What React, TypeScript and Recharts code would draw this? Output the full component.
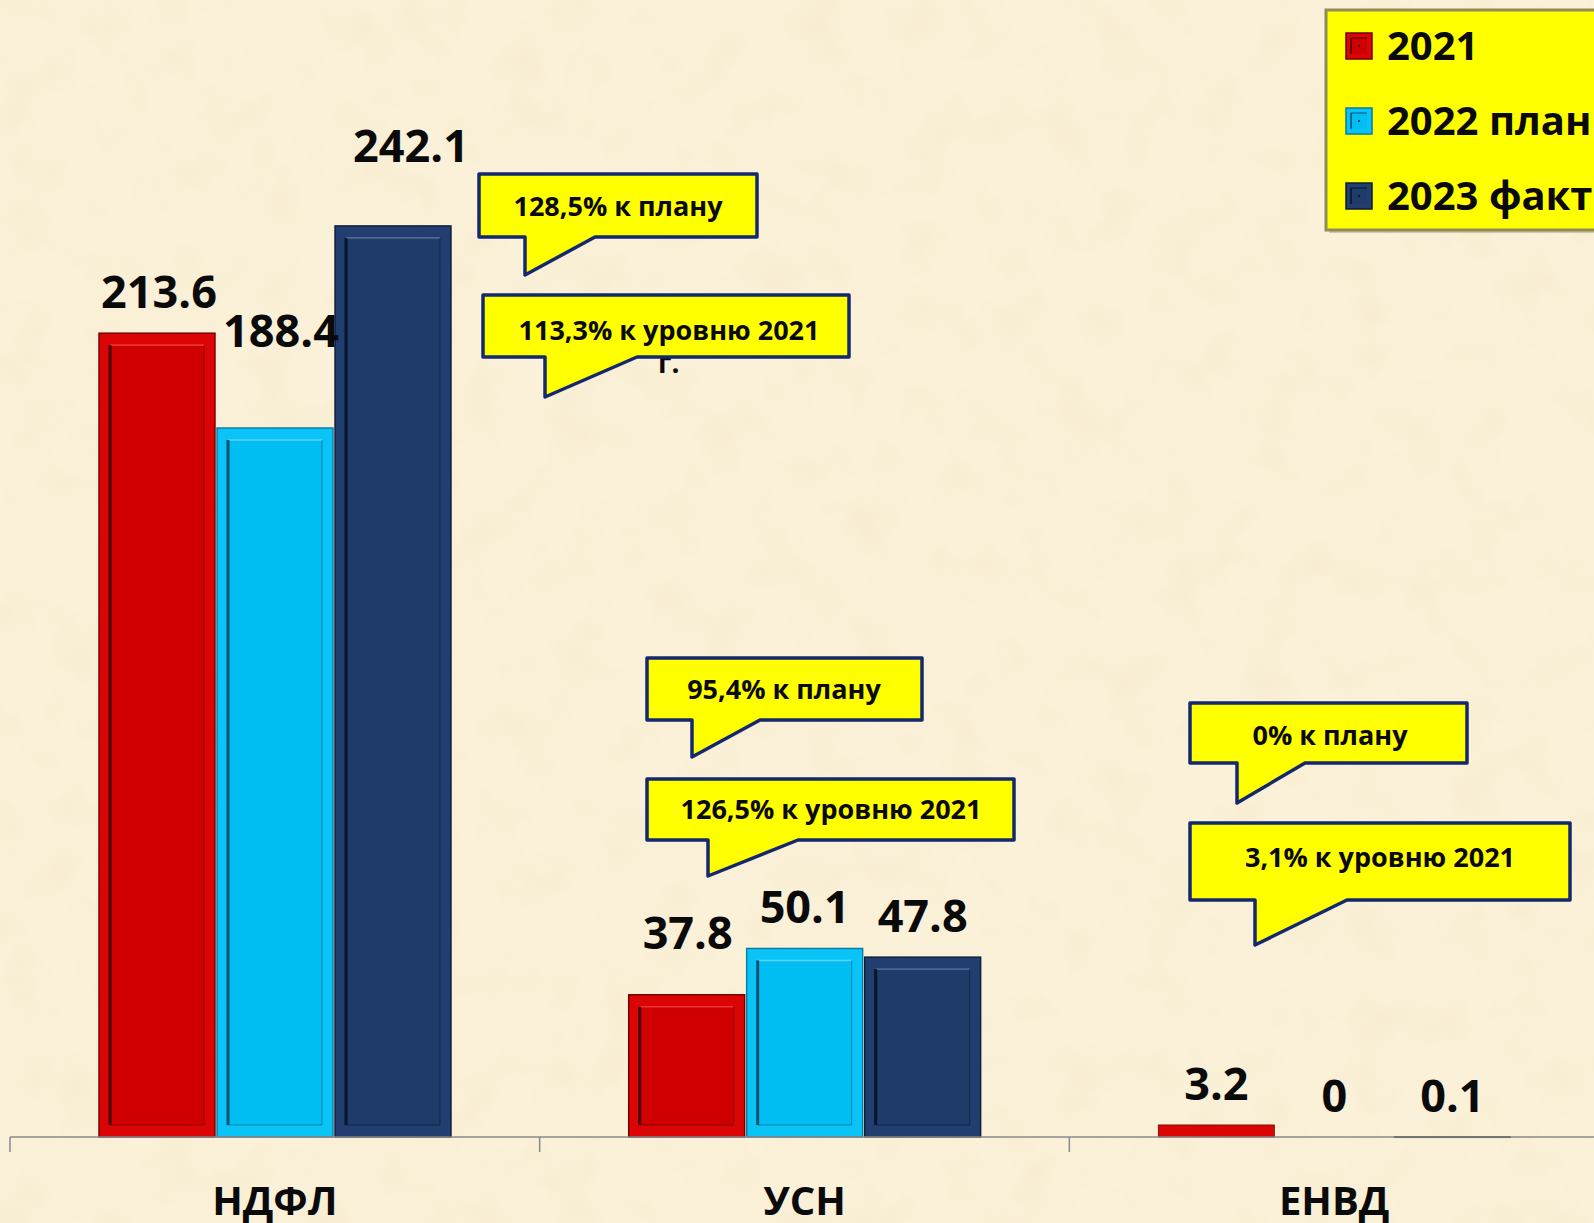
import React from 'react';
import { BarChart, Bar, XAxis, YAxis, LabelList, Legend } from 'recharts';

// ---------- data ----------
const categories = ['НДФЛ', 'УСН', 'ЕНВД'];
const values2021 = [213.6, 37.8, 3.2];
const values2022plan = [188.4, 50.1, 0];
const values2023fact = [242.1, 47.8, 0.1];
const seriesNames = ['2021', '2022 план', '2023 факт'];
const yDomain: [number, number] = [0, 300];
const calloutTexts = [
  '128,5% к плану',
  '113,3% к уровню 2021',
  '95,4% к плану',
  '126,5% к уровню 2021',
  '0% к плану',
  '3,1% к уровню 2021',
];

const data = categories.map((name, i) => ({
  name,
  s0: values2021[i],
  s1: values2022plan[i],
  s2: values2023fact[i],
}));

// ---------- layout / style ----------
const W = 1594;
const H = 1223;
const CHART_W = 1620;
const MARGIN = { top: 8, right: 21, bottom: 0, left: 10 };
const AXIS_H = 86;
const BAND = (CHART_W - MARGIN.left - MARGIN.right) / categories.length;
const FONT = "'Open Sans', 'Noto Sans', sans-serif";

const PALETTES = [
  { main: '#d00000', band: '#dc0505', edge: '#6e0000', shadow: '#420000', light: '#f04040' },
  { main: '#00bdf2', band: '#0ac4f7', edge: '#0a7aa3', shadow: '#045070', light: '#70d8f8' },
  { main: '#1f3b69', band: '#223e70', edge: '#0d1c38', shadow: '#08142a', light: '#5a7398' },
];

// label nudges (px) per series, per category, relative to default position above bar
const LABEL_NUDGE = [
  [{ dx: 2, dy: 0 }, { dx: 1, dy: -21 }, { dx: 0, dy: 0 }],
  [{ dx: 6, dy: -56 }, { dx: 0, dy: 0 }, { dx: 0, dy: 0 }],
  [{ dx: 18, dy: -39 }, { dx: 0, dy: 0 }, { dx: 0, dy: 0 }],
];

// callout boxes: left, top, right, bottom, tail-left, tail-right, tip-y, text center
const CALLOUT_BOXES = [
  { l: 479, t: 174, r: 757, b: 237, tl: 525, tr: 595, tip: 275, cx: 618, cy: 206 },
  { l: 483, t: 295, r: 849, b: 357, tl: 545, tr: 637, tip: 397, cx: 669, cy: 330 },
  { l: 647, t: 658, r: 922, b: 720, tl: 692, tr: 760, tip: 757, cx: 784, cy: 689 },
  { l: 647, t: 779, r: 1014, b: 840, tl: 708, tr: 798, tip: 876, cx: 831, cy: 809 },
  { l: 1190, t: 703, r: 1467, b: 763, tl: 1237, tr: 1305, tip: 803, cx: 1330, cy: 735 },
  { l: 1190, t: 823, r: 1570, b: 900, tl: 1255, tr: 1347, tip: 945, cx: 1380, cy: 857 },
];

// ---------- components ----------
function BevelBar(props: any) {
  const { x, y, width, height, pal } = props;
  if (x == null || width == null) return null;
  const h = Math.max(Number(height) || 0, 0);
  if (h <= 0) return null;
  if (h < 30) {
    return (
      <rect x={x} y={y} width={width} height={Math.max(h, 1)} fill={pal.band} stroke={pal.edge} strokeWidth={0.8} />
    );
  }
  const ix = x + 11;
  const iy = y + 12;
  const iw = width - 22;
  const ih = h - 24;
  return (
    <g>
      <rect x={x} y={y} width={width} height={h} fill={pal.band} stroke={pal.edge} strokeWidth={1.4} />
      <rect x={ix} y={iy} width={iw} height={ih} fill={pal.main} />
      <line x1={ix} y1={iy} x2={ix + iw} y2={iy} stroke={pal.light} strokeWidth={1.6} opacity={0.8} />
      <line x1={ix} y1={iy} x2={ix} y2={iy + ih} stroke={pal.shadow} strokeWidth={3} />
      <line x1={ix + iw} y1={iy} x2={ix + iw} y2={iy + ih} stroke={pal.shadow} strokeWidth={1.2} opacity={0.45} />
      <line x1={ix} y1={iy + ih} x2={ix + iw} y2={iy + ih} stroke={pal.shadow} strokeWidth={1.2} opacity={0.55} />
    </g>
  );
}

const makeLabel = (si: number) => (props: any) => {
  const vb = props.viewBox || {};
  const x = Number(props.x ?? vb.x);
  const y = Number(props.y ?? vb.y);
  const width = Number(props.width ?? vb.width);
  const idx = props.index ?? 0;
  const n = (LABEL_NUDGE[si] && LABEL_NUDGE[si][idx]) || { dx: 0, dy: 0 };
  const cx = x + width / 2 + n.dx;
  const capCenter = y - 41 + n.dy;
  return (
    <text x={cx} y={capCenter + 16} textAnchor="middle" fontFamily={FONT} fontWeight={700} fontSize={45} fill="#0a0a0a">
      {String(props.value)}
    </text>
  );
};

const CatTick = (props: any) => {
  const { x, y, payload, index } = props;
  const left = x - BAND / 2;
  const right = x + BAND / 2;
  return (
    <g>
      <line x1={left} y1={y} x2={left} y2={y + 15} stroke="#8a8a8a" strokeWidth={1.5} />
      {index === categories.length - 1 && (
        <line x1={right} y1={y} x2={right} y2={y + 15} stroke="#8a8a8a" strokeWidth={1.5} />
      )}
      <text x={x} y={y + 78} textAnchor="middle" fontFamily={FONT} fontWeight={700} fontSize={40} fill="#0a0a0a">
        {payload.value}
      </text>
    </g>
  );
};

const LegendMarker = ({ x, y, pal }: any) => (
  <g>
    <rect x={x} y={y} width={26} height={26} fill={pal.band} stroke={pal.edge} strokeWidth={1.5} />
    <rect x={x + 5} y={y + 5} width={16} height={16} fill={pal.main} />
    <line x1={x + 5} y1={y + 5} x2={x + 5} y2={y + 21} stroke={pal.shadow} strokeWidth={1.5} />
    <line x1={x + 5} y1={y + 5} x2={x + 21} y2={y + 5} stroke={pal.shadow} strokeWidth={1} />
    <rect x={x + 12} y={y + 12} width={2} height={2} fill={pal.shadow} />
  </g>
);

const renderLegend = (props: any) => {
  const payload = props.payload || [];
  const centers = [38, 113, 188];
  return (
    <svg width={300} height={230} style={{ overflow: 'visible', display: 'block' }}>
      <rect x={5} y={5} width={300} height={220} fill="#a8a67a" opacity={0.55} />
      <rect x={2} y={2} width={300} height={220} fill="#ffff00" stroke="#8f8c55" strokeWidth={3} />
      {payload.map((p: any, i: number) => (
        <g key={i}>
          <LegendMarker x={22} y={centers[i] - 13} pal={PALETTES[i]} />
          <text x={63} y={centers[i] + 14.3} fontFamily={FONT} fontWeight={700} fontSize={40} fill="#0a0a0a">
            {p.value}
          </text>
        </g>
      ))}
    </svg>
  );
};

function Callout({ box, text }: any) {
  const { l, t, r, b, tl, tr, tip, cx, cy } = box;
  const d = `M ${l} ${t} L ${r} ${t} L ${r} ${b} L ${tr} ${b} L ${tl} ${tip} L ${tl} ${b} L ${l} ${b} Z`;
  return (
    <g>
      <path d={d} fill="#ffff00" stroke="#14286e" strokeWidth={3.5} strokeLinejoin="round" />
      <text x={cx} y={cy + 9.6} textAnchor="middle" fontFamily={FONT} fontWeight={700} fontSize={27} fill="#0a0a0a">
        {text}
      </text>
    </g>
  );
}

export default function App() {
  return (
    <div style={{ position: 'absolute', left: 0, top: 0, width: W, height: H, overflow: 'hidden', background: '#fbf1d9' }}>
      <svg width={W} height={H} style={{ position: 'absolute', left: 0, top: 0 }}>
        <defs>
          <filter id="paper" x="0" y="0" width="100%" height="100%">
            <feTurbulence type="fractalNoise" baseFrequency="0.02" numOctaves="4" seed="7" />
            <feColorMatrix
              type="matrix"
              values="0 0 0 0 0.86  0 0 0 0 0.76  0 0 0 0 0.5  1.6 0 0 0 -0.62"
            />
          </filter>
        </defs>
        <rect width={W} height={H} fill="#fbf1d9" />
        <rect width={W} height={H} filter="url(#paper)" opacity={0.3} />
      </svg>
      <div style={{ position: 'absolute', left: 0, top: 0 }}>
        <BarChart width={CHART_W} height={H} data={data} margin={MARGIN} barGap={2} barSize={116}>
          <YAxis hide domain={yDomain} type="number" />
          <XAxis
            dataKey="name"
            height={AXIS_H}
            tickLine={false}
            tickSize={0}
            tickMargin={0}
            interval={0}
            axisLine={{ stroke: '#8a8a8a', strokeWidth: 1.5 }}
            tick={<CatTick />}
          />
          <Legend
            layout="horizontal"
            verticalAlign="middle"
            align="center"
            content={renderLegend}
            wrapperStyle={{ left: 1324, top: 8, width: 300, height: 230 }}
          />
          {['s0', 's1', 's2'].map((k, si) => (
            <Bar
              key={k}
              dataKey={k}
              name={seriesNames[si]}
              fill={PALETTES[si].main}
              isAnimationActive={false}
              shape={(p: any) => <BevelBar {...p} pal={PALETTES[si]} />}
            >
              <LabelList dataKey={k} content={makeLabel(si)} />
            </Bar>
          ))}
        </BarChart>
      </div>
      <svg width={W} height={H} style={{ position: 'absolute', left: 0, top: 0, pointerEvents: 'none' }}>
        <text x={658} y={373} fontFamily={FONT} fontWeight={700} fontSize={28} fill="#0a0a0a">г.</text>
        {CALLOUT_BOXES.map((box, i) => (
          <Callout key={i} box={box} text={calloutTexts[i]} />
        ))}
      </svg>
    </div>
  );
}
